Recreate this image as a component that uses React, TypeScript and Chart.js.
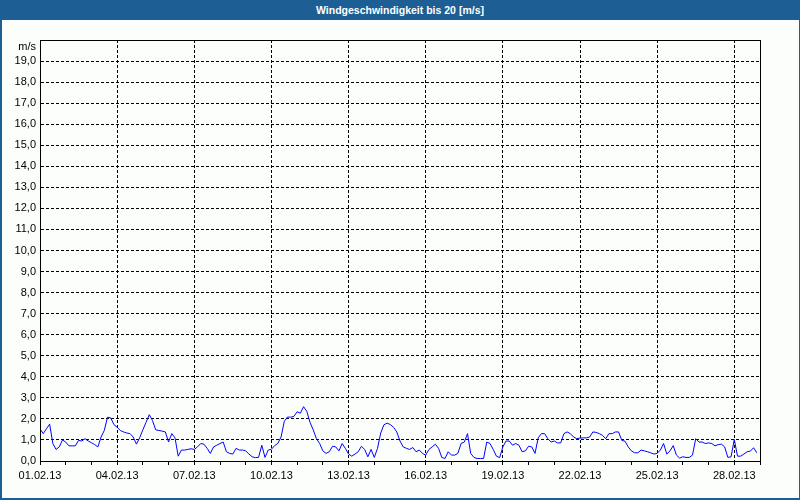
import React, { useEffect, useRef } from 'react';
import { Chart, registerables } from 'chart.js';

Chart.register(...registerables);

const TITLE = 'Windgeschwindigkeit bis 20 [m/s]';
const Y_UNIT = 'm/s';
const Y_MAX = 20;
const DATE_LABELS = [
  '01.02.13', '04.02.13', '07.02.13', '10.02.13', '13.02.13',
  '16.02.13', '19.02.13', '22.02.13', '25.02.13', '28.02.13',
];
const HOURS_PER_SAMPLE = 3;
const HOURS_TOTAL = 672;
const HOURS_PER_LABEL = 72;

// wind speed in m/s, one value every 3 hours from 01.02.13 00:00
const windSpeed = [
  1.53, 1.30, 1.53, 1.75, 0.83, 0.55, 0.67, 1.00,
  0.90, 0.72, 0.72, 0.72, 0.98, 0.95, 1.06, 0.95,
  0.87, 0.78, 0.67, 1.14, 1.45, 2.08, 2.05, 1.73,
  1.60, 1.45, 1.38, 1.33, 1.30, 1.14, 0.80, 1.10,
  1.48, 1.84, 2.20, 1.92, 1.48, 1.45, 1.42, 1.38,
  0.90, 1.30, 1.10, 0.23, 0.52, 0.52, 0.55, 0.58,
  0.55, 0.67, 0.83, 0.80, 0.60, 0.36, 0.67, 0.75,
  0.83, 0.90, 0.44, 0.36, 0.33, 0.60, 0.52, 0.52,
  0.48, 0.33, 0.20, 0.16, 0.17, 0.75, 0.17, 0.52,
  0.56, 0.73, 0.84, 1.14, 1.89, 2.09, 2.08, 2.12,
  2.34, 2.27, 2.58, 2.36, 1.84, 1.48, 1.06, 0.83,
  0.48, 0.36, 0.44, 0.70, 0.67, 0.48, 0.83, 0.60,
  0.33, 0.23, 0.33, 0.44, 0.70, 0.55, 0.20, 0.55,
  0.17, 0.60, 1.33, 1.72, 1.80, 1.73, 1.60, 1.38,
  0.95, 0.67, 0.60, 0.55, 0.64, 0.44, 0.52, 0.36,
  0.28, 0.55, 0.67, 0.80, 0.60, 0.17, 0.12, 0.44,
  0.28, 0.28, 0.36, 0.83, 0.90, 1.30, 0.36, 0.17,
  0.12, 0.12, 0.12, 0.90, 0.83, 0.55, 0.23, 0.16,
  0.67, 0.95, 0.95, 0.75, 0.83, 0.75, 0.44, 0.48,
  0.70, 0.67, 0.36, 1.10, 1.30, 1.30, 1.06, 0.90,
  0.95, 0.86, 0.86, 1.30, 1.38, 1.30, 1.14, 1.06,
  1.09, 1.10, 1.10, 1.14, 1.38, 1.36, 1.30, 1.22,
  1.06, 1.30, 1.30, 1.38, 1.38, 0.98, 0.94, 0.67,
  0.48, 0.39, 0.39, 0.52, 0.48, 0.44, 0.39, 0.33,
  0.36, 0.52, 0.83, 0.33, 0.48, 0.73, 0.28, 0.14,
  0.20, 0.17, 0.17, 0.28, 1.06, 0.90, 0.90, 0.83,
  0.86, 0.83, 0.72, 0.78, 0.80, 0.67, 0.17, 0.20,
  1.02, 0.23, 0.23, 0.33, 0.44, 0.47, 0.63, 0.39,
];

const FRAME_BLUE = '#1d5f94';
const FONT = '"Liberation Sans", Arial, sans-serif';

export default function App() {
  const ref = useRef<HTMLCanvasElement>(null);

  useEffect(() => {
    document.body.style.margin = '0';
    if (!ref.current) return;
    const points = windSpeed.map((v, i) => ({ x: i * HOURS_PER_SAMPLE, y: v }));

    const framePlugin = {
      id: 'frame',
      afterDraw(chart: any) {
        const { ctx, chartArea: a } = chart;
        ctx.save();
        ctx.strokeStyle = '#000';
        ctx.lineWidth = 1;
        ctx.setLineDash([]);
        ctx.strokeRect(
          Math.round(a.left) + 0.5,
          Math.round(a.top) + 0.5,
          Math.round(a.right - a.left),
          Math.round(a.bottom - a.top)
        );
        ctx.restore();
      },
    };

    const chart = new Chart(ref.current, {
      type: 'line',
      data: {
        datasets: [
          {
            data: points,
            borderColor: '#0000ff',
            borderWidth: 1,
            pointRadius: 0,
            tension: 0,
            fill: false,
          },
        ],
      },
      options: {
        animation: false,
        responsive: false,
        events: [],
        layout: { padding: { top: 40, right: 40, left: 0, bottom: 0 } },
        plugins: { legend: { display: false }, title: { display: false }, tooltip: { enabled: false } },
        scales: {
          x: {
            type: 'linear',
            min: 0,
            max: HOURS_TOTAL,
            afterFit: (s: any) => { s.height = 39; },
            ticks: {
              stepSize: 24,
              autoSkip: false,
              maxRotation: 0,
              padding: 4,
              color: '#000',
              font: { family: FONT, size: 11 },
              callback: (v: any) => {
                const n = Number(v);
                return n % HOURS_PER_LABEL === 0 ? (DATE_LABELS[n / HOURS_PER_LABEL] ?? '') : '';
              },
            },
            grid: {
              color: (c: any) => (c.tick && c.tick.value % HOURS_PER_LABEL === 0 ? '#000' : 'rgba(0,0,0,0)'),
              tickColor: '#000',
              tickLength: 4,
              lineWidth: 1,
              drawTicks: true,
            },
            border: { display: true, color: '#000', width: 1, dash: [3, 2] },
          },
          y: {
            type: 'linear',
            min: 0,
            max: Y_MAX,
            afterFit: (s: any) => { s.width = 40; },
            ticks: {
              stepSize: 1,
              padding: 4,
              color: '#000',
              font: { family: FONT, size: 11 },
              callback: (v: any) => {
                const n = Number(v);
                return n === Y_MAX ? '' : n.toFixed(1).replace('.', ',');
              },
            },
            grid: { color: '#000', lineWidth: 1, drawTicks: false },
            border: { display: true, color: '#000', width: 1, dash: [3, 2] },
          },
        },
      },
      plugins: [framePlugin],
    });
    return () => chart.destroy();
  }, []);

  return (
    <div style={{ position: 'absolute', left: 0, top: 0, width: 800, height: 500, background: '#fcfefc', overflow: 'hidden' }}>
      <canvas ref={ref} width={800} height={500} style={{ position: 'absolute', left: 0, top: 0, width: 800, height: 500 }} />
      <div
        style={{
          position: 'absolute', left: 0, top: 0, width: 800, height: 20,
          background: FRAME_BLUE, color: '#fff', fontFamily: FONT, fontWeight: 'bold',
          fontSize: 10.5, lineHeight: '20px', textAlign: 'center',
        }}
      >
        {TITLE}
      </div>
      <div
        style={{
          position: 'absolute', left: 0, top: 39, width: 36, height: 14,
          fontFamily: FONT, fontSize: 11, lineHeight: '14px', textAlign: 'right', color: '#000',
        }}
      >
        {Y_UNIT}
      </div>
      <div style={{ position: 'absolute', left: 0, top: 0, width: 2, height: 500, background: FRAME_BLUE }} />
      <div style={{ position: 'absolute', left: 799, top: 0, width: 1, height: 500, background: FRAME_BLUE }} />
      <div style={{ position: 'absolute', left: 0, top: 498, width: 800, height: 2, background: FRAME_BLUE }} />
    </div>
  );
}
